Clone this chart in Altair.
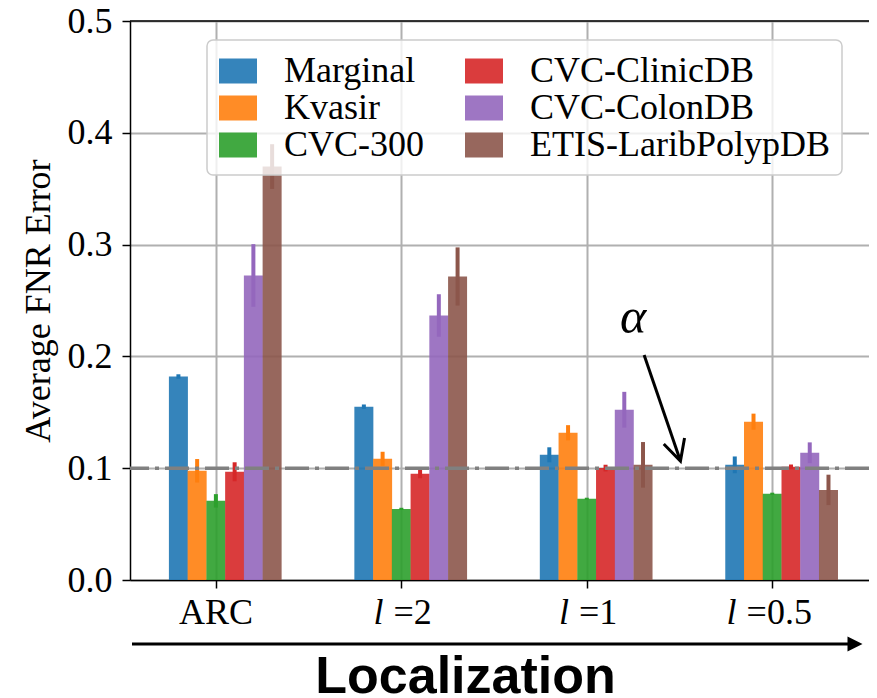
import altair as alt
import pandas as pd

# ---------------- data ----------------
tick_labels = ["ARC", "l =2", "l =1", "l =0.5"]
series = ["Marginal", "Kvasir", "CVC-300", "CVC-ClinicDB", "CVC-ColonDB", "ETIS-LaribPolypDB"]
colors = ["#1f77b4", "#ff7f0e", "#2ca02c", "#d62728", "#9467bd", "#8c564b"]

marginal = [0.182, 0.155, 0.112, 0.103]
marginal_err = [0.002, 0.002, 0.0067, 0.0075]
kvasir = [0.0977, 0.1084, 0.1317, 0.1416]
kvasir_err = [0.0105, 0.0063, 0.0068, 0.0072]
cvc300 = [0.0708, 0.0636, 0.0726, 0.0771]
cvc300_err = [0.006, 0.001, 0.001, 0.001]
clinic = [0.0968, 0.0950, 0.1001, 0.1013]
clinic_err = [0.0085, 0.004, 0.003, 0.002]
colon = [0.2724, 0.2366, 0.1523, 0.1138]
colon_err = [0.028, 0.019, 0.016, 0.0093]
etis = [0.3698, 0.2715, 0.1030, 0.0806]
etis_err = [0.020, 0.026, 0.0204, 0.0136]

alpha_level = 0.1
y_ticks = [0.0, 0.1, 0.2, 0.3, 0.4, 0.5]

# annotation (alpha label and arrow), in data units
alpha_text_pos = (2.25, 0.2209)
arrow_shaft_x = [2.309, 2.505]
arrow_shaft_y = [0.2013, 0.1064]
arrow_head_x = [2.415, 2.505, 2.527]
arrow_head_y = [0.1216, 0.1064, 0.1270]

# ---------------- layout ----------------
PLOT_W, PLOT_H = 739, 559
X_MIN, X_MAX = -0.4362, 3.4947
PX_PER_UNIT = PLOT_W / (X_MAX - X_MIN)
BAR_PX = 19
BAR_W = BAR_PX / PX_PER_UNIT

values = [marginal, kvasir, cvc300, clinic, colon, etis]
errors = [marginal_err, kvasir_err, cvc300_err, clinic_err, colon_err, etis_err]

rows = []
for si, (name, vals, errs) in enumerate(zip(series, values, errors)):
    for gi, (v, e) in enumerate(zip(vals, errs)):
        rows.append({"series": name, "sidx": si, "gidx": gi, "value": v, "err": e})
df = pd.DataFrame(rows)

lab_rows = []
for gi, lab in enumerate(tick_labels):
    if " " in lab:
        pre, suf = lab.split(" ", 1)
    else:
        pre, suf = "", lab
    lab_rows.append({"gidx": gi, "pre": pre, "suf": suf})
labdf = pd.DataFrame(lab_rows)

xscale = alt.Scale(domain=[X_MIN, X_MAX], nice=False, zero=False)
yscale = alt.Scale(domain=[0, 0.5], nice=False)
cscale = alt.Scale(domain=series, range=colors)

SERIF = "Liberation Serif"

xaxis = alt.Axis(
    values=[0, 1, 2, 3], labels=False, tickSize=8, tickColor="black", tickWidth=1.5,
    domainColor="black", domainWidth=1.5, grid=True, gridColor="#b0b0b0", gridWidth=2,
    title="Localization", titleFont="Liberation Sans", titleFontWeight="bold",
    titleFontSize=52, titleColor="black", titleX=335, titleY=112,
    titleBaseline="alphabetic", titleAlign="center",
)
yaxis = alt.Axis(
    values=y_ticks, format=".1f", labelFont=SERIF, labelFontSize=36, labelColor="black",
    labelPadding=10, tickSize=8, tickColor="black", tickWidth=1.5,
    domainColor="black", domainWidth=1.5, grid=True, gridColor="#b0b0b0", gridWidth=2,
    title="Average FNR Error", titleFont=SERIF, titleFontSize=36, titleFontWeight="normal",
    titleColor="black", titleX=-92, titleY=PLOT_H / 2, titleAngle=-90,
    titleBaseline="middle", titleAlign="center",
)
legend = alt.Legend(
    orient="none", legendX=77, legendY=19, columns=2, direction="vertical",
    fillColor="rgba(255,255,255,0.8)", strokeColor="#cccccc",
    cornerRadius=6, padding=12, labelFont=SERIF, labelFontSize=36, labelColor="black",
    labelLimit=400, symbolType="M-1,-0.66H1V0.66H-1Z", symbolSize=1444,
    symbolOpacity=0.9, symbolStrokeWidth=0, labelOffset=27, columnPadding=40,
    rowPadding=-3,
)

base = alt.Chart(df).transform_calculate(
    xpos=f"datum.gidx + (datum.sidx - 2) * {BAR_W}",
    lo="datum.value - datum.err",
    hi="datum.value + datum.err",
)

bars = base.mark_bar(size=BAR_PX, opacity=0.9).encode(
    x=alt.X("xpos:Q", scale=xscale, axis=xaxis),
    y=alt.Y("value:Q", scale=yscale, axis=yaxis),
    color=alt.Color("series:N", scale=cscale, legend=legend, title=None),
)

errbars = base.mark_rule(strokeWidth=4).encode(
    x="xpos:Q",
    y="lo:Q",
    y2="hi:Q",
    color=alt.Color("series:N", scale=cscale, legend=legend, title=None),
)

hline = alt.Chart(pd.DataFrame({"alpha": [alpha_level]})).mark_rule(
    color="#808080", strokeWidth=3.5, strokeDash=[24, 6, 4, 6]
).encode(y="alpha:Q")

top_spine = alt.Chart(pd.DataFrame({"top": [y_ticks[-1]]})).mark_rule(
    color="black", strokeWidth=1.5
).encode(y="top:Q")

alpha_txt = alt.Chart(pd.DataFrame({"ax": [alpha_text_pos[0]], "ay": [alpha_text_pos[1]], "t": ["α"]})).mark_text(
    font=SERIF, fontStyle="italic", fontSize=50, color="black", baseline="alphabetic", align="center"
).encode(x="ax:Q", y="ay:Q", text="t:N")

arrow_df = pd.DataFrame(
    {"ax": arrow_shaft_x + arrow_head_x,
     "ay": arrow_shaft_y + arrow_head_y,
     "part": ["shaft"] * 2 + ["head"] * 3,
     "ord": [0, 1, 0, 1, 2]}
)
arrow = alt.Chart(arrow_df).mark_line(color="black", strokeWidth=3, strokeJoin="miter").encode(
    x="ax:Q", y="ay:Q", detail="part:N", order="ord:Q"
)

lab_base = alt.Chart(labdf).transform_calculate(
    xs=f"datum.pre == '' ? datum.gidx : datum.gidx + (10 - 9 * length(datum.suf)) / {PX_PER_UNIT}"
)
lab_plain = lab_base.transform_filter("datum.pre == ''").mark_text(
    font=SERIF, fontSize=36, color="black", baseline="alphabetic", align="center"
).encode(x="xs:Q", y=alt.value(603), text="suf:N")
lab_suf = lab_base.transform_filter("datum.pre != ''").mark_text(
    font=SERIF, fontSize=36, color="black", baseline="alphabetic", align="left"
).encode(x="xs:Q", y=alt.value(603), text="suf:N")
lab_pre = lab_base.transform_filter("datum.pre != ''").mark_text(
    font=SERIF, fontStyle="italic", fontSize=36, color="black", baseline="alphabetic",
    align="right", dx=-10
).encode(x="xs:Q", y=alt.value(603), text="pre:N")

one = pd.DataFrame({"a": [0]})
axis_arrow_line = alt.Chart(one).mark_rule(color="black", strokeWidth=3).encode(
    x=alt.value(2), x2=alt.value(720), y=alt.value(623)
)
axis_arrow_head = alt.Chart(one).mark_point(
    shape="M-1,-1L1,0L-1,1Z", filled=True, size=225, color="black", opacity=1
).encode(x=alt.value(725), y=alt.value(623))

chart = alt.layer(
    bars, errbars, hline, top_spine, alpha_txt, arrow,
    lab_plain, lab_suf, lab_pre, axis_arrow_line, axis_arrow_head,
).properties(
    width=PLOT_W, height=PLOT_H,
    padding={"left": 122, "top": 13, "right": 0, "bottom": 116},
    autosize=alt.AutoSizeParams(type="none"),
).configure_view(strokeWidth=0).configure_legend(strokeWidth=1.5).configure_axis(
    labelFont=SERIF, labelFontSize=36, labelColor="black"
)

chart.save("out.html", embed_options={"renderer": "svg", "actions": False})
